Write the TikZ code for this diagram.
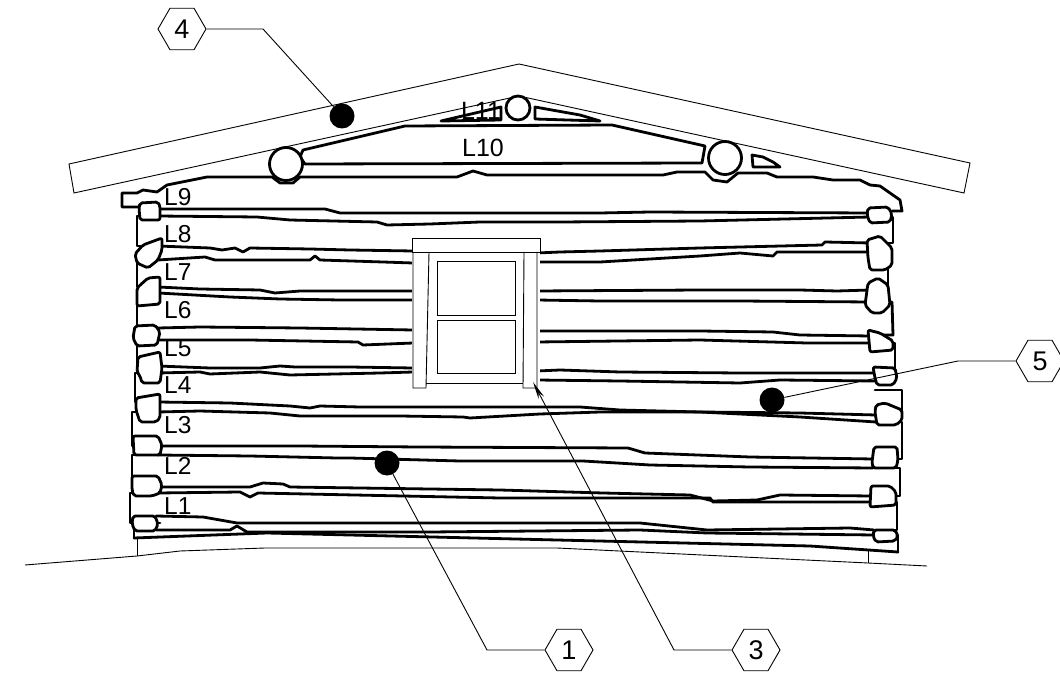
\documentclass[tikz,border=0pt]{standalone}
\usepackage{fontspec}
\setmainfont{Liberation Sans}
\usetikzlibrary{shapes.geometric,arrows.meta}
\begin{document}
\begin{tikzpicture}[x=1pt,y=-1pt,
  logline/.style={line width=2.8pt,line join=round,line cap=round},
  logend/.style={line width=2.8pt,line join=round,rounded corners=2pt,fill=white},
  thinline/.style={line width=0.9pt},
  winline/.style={line width=0.9pt},
  lbl/.style={font=\fontsize{24.5}{24.5}\selectfont,inner sep=0pt,anchor=west},
  callout/.style={draw,regular polygon,regular polygon sides=6,minimum size=48pt,
    inner sep=0pt,line width=0.9pt,font=\fontsize{27}{27}\selectfont},
  dot/.style={circle,fill=black,minimum size=25pt,inner sep=0pt},
  leader/.style={line width=0.9pt},
  logcircle/.style={circle,draw,line width=2.8pt,fill=white,minimum size=33pt,inner sep=0pt}
]
\useasboundingbox (0,0) rectangle (1060,684);

% ---------- roof slab ----------
\draw[thinline,line join=miter] (69,164) -- (519,64) -- (970,163) -- (964,193)
  -- (519,96) -- (74,193) -- cycle;

% ---------- ground and foundation ----------
\draw[thinline] (25,565) -- (137,556) -- (180,551) -- (265,548) -- (557,548)
  -- (868,563) -- (927,566);
\draw[thinline] (137,538) -- (137,556);
\draw[thinline] (868,549) -- (868,563);

% ---------- gable logs ----------
\draw[logline] (300,157) -- (303,150) -- (405,126) -- (612,125) -- (705,146)
  -- (702,163) -- (305,164) -- cycle;
\draw[logline] (441,121) -- (501,107) -- (501,120) -- cycle;
\draw[logline] (535,107) -- (535,119) -- (600,121) -- (580,115) -- cycle;
\draw[logline] (752,155) -- (753,167) -- (780,167) -- (773,162) -- (763,157) -- cycle;

% top wall log (L9) upper outline
\draw[logline] (140,207) -- (122,207) -- (122,193) -- (137,193) -- (143,190)
  -- (157,192) -- (167,185) -- (207,177) -- (272,177) -- (280,183) -- (293,183)
  -- (300,177) -- (457,177) -- (473,171) -- (487,175) -- (663,175) -- (677,172)
  -- (705,172) -- (713,180) -- (727,182) -- (738,173) -- (767,173) -- (777,177)
  -- (813,177) -- (833,180) -- (860,180) -- (870,185) -- (880,186) -- (900,200)
  -- (902,211) -- (892,211);

% ---------- joints between wall logs ----------
% L9 / L8
\draw[logline] (158,209) -- (325,209) -- (340,213) -- (600,213) -- (650,212) -- (870,213);
\draw[logline] (158,216) -- (257,217) -- (290,220) -- (377,222) -- (387,225)
  -- (430,224) -- (480,222) -- (560,222) -- (700,221) -- (827,218) -- (870,217);
% L8 / L7
\draw[logline] (158,246) -- (210,248) -- (222,250) -- (235,248) -- (243,252)
  -- (250,248) -- (310,249) -- (350,250) -- (413,251) -- (537,253) -- (560,252)
  -- (600,251) -- (700,248) -- (822,245) -- (825,242) -- (870,243);
\draw[logline] (158,260) -- (205,257) -- (215,260) -- (230,260) -- (310,260)
  -- (315,256) -- (320,260) -- (383,262) -- (413,263) -- (537,262) -- (600,262)
  -- (700,256) -- (740,253) -- (773,256) -- (777,252) -- (870,252);
% L7 / L6
\draw[logline] (158,287) -- (200,289) -- (260,290) -- (275,293) -- (300,291)
  -- (340,291) -- (413,291) -- (537,291) -- (700,290) -- (800,290) -- (837,291)
  -- (870,290);
\draw[logline] (158,293) -- (230,297) -- (280,299) -- (340,300) -- (413,300)
  -- (537,300) -- (600,301) -- (740,301) -- (870,302);
% L6 / L5
\draw[logline] (158,328) -- (200,327) -- (300,328) -- (413,330) -- (537,331)
  -- (700,331) -- (773,332) -- (800,335) -- (870,336);
\draw[logline] (158,340) -- (250,340) -- (358,342) -- (363,345) -- (413,343)
  -- (537,342) -- (700,340) -- (807,343) -- (870,343);
% L5 / L4
\draw[logline] (158,366) -- (210,368) -- (260,368) -- (280,366) -- (295,367)
  -- (350,367) -- (413,368) -- (537,371) -- (560,370) -- (620,372) -- (740,373)
  -- (875,373);
\draw[logline] (158,373) -- (200,372) -- (210,374) -- (260,372) -- (290,375)
  -- (380,373) -- (413,372) -- (537,380) -- (620,381) -- (740,383) -- (780,380)
  -- (875,381);
% L4 / L3
\draw[logline] (158,402) -- (230,403) -- (290,406) -- (310,408) -- (320,406)
  -- (360,407) -- (447,407) -- (580,407) -- (620,410) -- (700,412) -- (800,413)
  -- (876,415);
\draw[logline] (158,412) -- (200,411) -- (270,413) -- (300,416) -- (400,416)
  -- (463,417) -- (470,418) -- (540,414) -- (600,412) -- (700,412) -- (780,416)
  -- (800,417) -- (876,422);
% L3 / L2
\draw[logline] (158,446) -- (300,446) -- (420,447) -- (628,448) -- (645,453)
  -- (750,457) -- (873,459);
\draw[logline] (158,455) -- (250,456) -- (337,458) -- (350,458) -- (460,461)
  -- (583,461) -- (617,463) -- (650,465) -- (750,467) -- (873,468);
% L2 / L1
\draw[logline] (158,487) -- (250,487) -- (263,483) -- (283,484) -- (290,487)
  -- (500,490) -- (603,493) -- (690,495) -- (713,501) -- (757,500) -- (780,495)
  -- (871,496);
\draw[logline] (158,493) -- (240,492) -- (250,497) -- (258,493) -- (500,498)
  -- (710,498) -- (713,502) -- (871,502);
% L1 / sill
\draw[logline] (156,516) -- (203,517) -- (237,523) -- (430,523) -- (640,523)
  -- (707,530) -- (850,528) -- (874,530);
\draw[logline] (156,530) -- (230,530) -- (237,526) -- (247,532) -- (430,532)
  -- (640,530) -- (707,533) -- (874,535);
% sill underside
\draw[logline] (134,538) -- (267,533) -- (350,535) -- (557,540) -- (810,546) -- (898,552);

% ---------- log ends, left corner ----------
\draw[logline] (160,216) -- (137,216) -- (137,246) -- (160,246);
\draw[logline] (160,260) -- (137,260) -- (137,287) -- (160,287);
\draw[logline] (160,293) -- (137,293) -- (137,328) -- (160,328);
\draw[logline] (160,340) -- (137,340) -- (137,366) -- (160,366);
\draw[logline] (160,373) -- (135,373) -- (135,402) -- (160,402);
\draw[logline] (160,412) -- (132,412) -- (132,446) -- (160,446);
\draw[logline] (160,455) -- (132,455) -- (132,487) -- (160,487);
\draw[logline] (160,493) -- (130,493) -- (130,523) -- (160,523);
\draw[logline] (160,530) -- (134,530) -- (134,538);

% ---------- log ends, right corner ----------
\draw[logline] (870,217) -- (893,217) -- (893,243) -- (870,243);
\draw[logline] (870,252) -- (888,252) -- (888,290) -- (870,290);
\draw[logline] (870,302) -- (892,302) -- (893,335) -- (870,335);
\draw[logline] (870,343) -- (895,343) -- (895,373) -- (870,373);
\draw[logline] (875,390) -- (902,390) -- (902,415) -- (875,415);
\draw[logline] (875,422) -- (902,422) -- (902,459) -- (875,459);
\draw[logline] (873,468) -- (900,468) -- (900,496) -- (873,496);
\draw[logline] (871,502) -- (897,502) -- (897,530) -- (871,530);
\draw[logline] (874,535) -- (898,535) -- (898,552);

% ---------- crossing log butts, left ----------
\draw[logend] (140,203) -- (158,202) -- (160,206) -- (160,220) -- (140,220) -- (139,208) -- cycle;
\draw[logend] (143,245) -- (162,238) -- (162,250) -- (158,260) -- (148,268) -- (137,263) -- (135,254) -- cycle;
\draw[logend] (137,288) -- (148,278) -- (160,277) -- (160,304) -- (137,306) -- cycle;
\draw[logend] (135,326) -- (155,325) -- (160,332) -- (157,345) -- (137,346) -- (133,338) -- cycle;
\draw[logend] (138,357) -- (160,352) -- (162,368) -- (160,383) -- (142,383) -- (140,376) -- (137,372) -- cycle;
\draw[logend] (136,398) -- (160,394) -- (160,418) -- (156,422) -- (140,422) -- (136,410) -- cycle;
\draw[logend] (133,436) -- (158,436) -- (162,445) -- (160,455) -- (134,455) -- cycle;
\draw[logend] (132,476) -- (158,476) -- (162,485) -- (160,493) -- (152,496) -- (134,496) -- (132,490) -- cycle;
\draw[logend] (133,516) -- (155,516) -- (158,524) -- (155,531) -- (135,531) -- (132,524) -- cycle;

% ---------- crossing log butts, right ----------
\draw[logend] (868,208) -- (888,207) -- (892,214) -- (890,222) -- (870,223) -- (867,215) -- cycle;
\draw[logend] (867,240) -- (880,236) -- (892,248) -- (892,265) -- (885,270) -- (870,270) -- (868,258) -- cycle;
\draw[logend] (868,283) -- (878,278) -- (888,285) -- (890,305) -- (882,313) -- (872,313) -- (865,305) -- cycle;
\draw[logend] (868,330) -- (880,333) -- (893,341) -- (893,350) -- (870,352) -- cycle;
\draw[logend] (873,367) -- (895,368) -- (897,378) -- (893,385) -- (877,385) -- (875,378) -- cycle;
\draw[logend] (876,405) -- (885,403) -- (902,410) -- (902,420) -- (896,425) -- (877,425) -- (875,412) -- cycle;
\draw[logend] (874,447) -- (897,447) -- (898,460) -- (896,468) -- (873,468) -- (872,462) -- cycle;
\draw[logend] (871,486) -- (890,486) -- (896,492) -- (896,505) -- (870,507) -- cycle;
\draw[logend] (874,530) -- (895,530) -- (898,536) -- (895,541) -- (876,542) -- (873,536) -- cycle;

% ---------- window ----------
\fill[white] (412,238) rectangle (540,388);
\draw[winline] (412,238) rectangle (540,252);
\draw[winline] (413,252) -- (413,388) -- (426,388) -- (429,252);
\draw[winline] (524,252) -- (523,388) -- (537,388) -- (537,252);
\draw[winline] (426,383) -- (523,383);
\draw[winline] (437,261) rectangle (515,315);
\draw[winline] (437,320) rectangle (515,373);

% ---------- round gable logs ----------
\node[logcircle] (c10a) at (286,164) {};
\node[logcircle] (c10b) at (725,158) {};
\node[logcircle,minimum size=24pt] (c11) at (518,108) {};

% ---------- log course labels ----------
\node[font=\fontsize{25}{25}\selectfont,inner sep=0pt] (t11) at (481,111) {L11};
\node[font=\fontsize{25}{25}\selectfont,inner sep=0pt] (t10) at (483,147.5) {L10};
\node[lbl] (t9) at (164,197.5) {L9};
\node[lbl] (t8) at (164,234) {L8};
\node[lbl] (t7) at (164,272) {L7};
\node[lbl] (t6) at (164,310.5) {L6};
\node[lbl] (t5) at (164,348) {L5};
\node[lbl] (t4) at (164,385) {L4};
\node[lbl] (t3) at (164,425) {L3};
\node[lbl] (t2) at (164,465.5) {L2};
\node[lbl] (t1) at (164,506) {L1};

% ---------- callouts ----------
\node[callout] (h4) at (182,29) {4};
\node[callout] (h1) at (569,650) {1};
\node[callout] (h3) at (756,650) {3};
\node[callout] (h5) at (1040,361) {5};
\coordinate (k4) at (263,29);
\coordinate (k1) at (487,650);
\coordinate (k3) at (674,650);
\coordinate (k5) at (958,361);
\coordinate (w3) at (533,382);
\node[dot] (d4) at (342,116) {};
\node[dot] (d1) at (387,463) {};
\node[dot] (d5) at (772,400) {};
\draw[leader] (h4.east) -- (k4) -- (d4);
\draw[leader] (h1.west) -- (k1) -- (d1);
\draw[leader] (h5.west) -- (k5) -- (d5);
\draw[leader,-{Stealth[length=18pt,width=6pt]}] (h3.west) -- (k3) -- (w3);
\end{tikzpicture}
\end{document}
